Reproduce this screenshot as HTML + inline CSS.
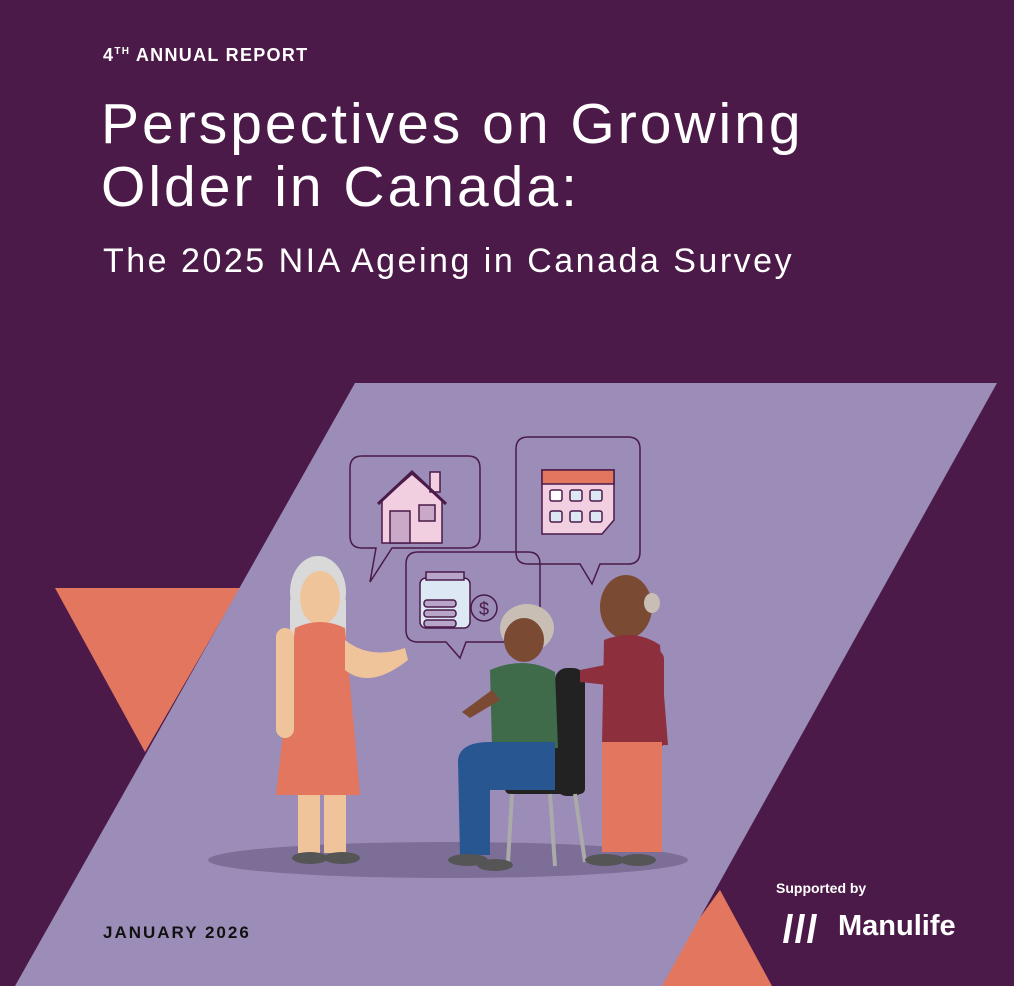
<!DOCTYPE html>
<html><head><meta charset="utf-8">
<style>
html,body{margin:0;padding:0}
body{width:1014px;height:986px;overflow:hidden;background:#4b1a48;position:relative;font-family:"Liberation Sans",sans-serif}
.t{position:absolute;white-space:nowrap}
</style></head>
<body>
<svg width="1014" height="986" style="position:absolute;left:0;top:0">
  <polygon points="55,588 240,588 145,752" fill="#e2765f"/>
  <polygon points="720,890 650,986 772,986" fill="#e2765f"/>
  <polygon points="355,383 997,383 662,986 15,986" fill="#9b8db8"/>
  <ellipse cx="448" cy="860" rx="240" ry="18" fill="#7c6e96"/>
  <g fill="none" stroke="#4b1a48" stroke-width="1.5">
    <path d="M362,456 H468 Q480,456 480,468 V536 Q480,548 468,548 H392 L370,582 L376,548 H362 Q350,548 350,536 V468 Q350,456 362,456 Z"/>
  </g>
  <g stroke="#4b1a48" stroke-width="1.5">
    <polygon points="382,500 412,474 442,500 442,543 382,543" fill="#f2cfe0"/>
    <rect x="430" y="472" width="10" height="20" fill="#f2cfe0"/>
    <polyline points="378,504 412,472 446,504" fill="none" stroke-width="3"/>
    <rect x="390" y="511" width="20" height="32" fill="#c9a9c7"/>
    <rect x="419" y="505" width="16" height="16" fill="#c9a9c7"/>
  </g>
  <g fill="none" stroke="#4b1a48" stroke-width="1.5">
    <path d="M528,437 H628 Q640,437 640,449 V552 Q640,564 628,564 H600 L592,584 L580,564 H528 Q516,564 516,552 V449 Q516,437 528,437 Z"/>
  </g>
  <g stroke="#4b1a48" stroke-width="1.5">
    <path d="M542,470 H614 V520 L602,534 H542 Z" fill="#f2cfe0"/>
    <rect x="542" y="470" width="72" height="14" fill="#e2765f"/>
    <rect x="550" y="490" width="12" height="11" rx="2" fill="#fff"/>
    <rect x="570" y="490" width="12" height="11" rx="2" fill="#dce8f4"/>
    <rect x="590" y="490" width="12" height="11" rx="2" fill="#dce8f4"/>
    <rect x="550" y="511" width="12" height="11" rx="2" fill="#dce8f4"/>
    <rect x="570" y="511" width="12" height="11" rx="2" fill="#dce8f4"/>
    <rect x="590" y="511" width="12" height="11" rx="2" fill="#dce8f4"/>
  </g>
  <g fill="none" stroke="#4b1a48" stroke-width="1.5">
    <path d="M418,552 H528 Q540,552 540,564 V630 Q540,642 528,642 H466 L460,658 L446,642 H418 Q406,642 406,630 V564 Q406,552 418,552 Z"/>
  </g>
  <g stroke="#4b1a48" stroke-width="1.5">
    <rect x="420" y="578" width="50" height="50" rx="6" fill="#dce8f4"/>
    <rect x="426" y="572" width="38" height="8" fill="#b7a6c9"/>
    <rect x="424" y="600" width="32" height="7" rx="3" fill="#b7a6c9"/>
    <rect x="424" y="610" width="32" height="7" rx="3" fill="#b7a6c9"/>
    <rect x="424" y="620" width="32" height="7" rx="3" fill="#b7a6c9"/>
    <circle cx="484" cy="608" r="13" fill="none"/>
    <text x="484" y="615" text-anchor="middle" font-size="18" fill="#4b1a48" stroke="none" font-family="Liberation Sans, sans-serif">$</text>
  </g>
  <g>
    <ellipse cx="318" cy="592" rx="28" ry="36" fill="#d9d9d9"/>
    <rect x="290" y="592" width="56" height="60" rx="10" fill="#d9d9d9"/>
    <ellipse cx="320" cy="598" rx="20" ry="27" fill="#f0c49a"/>
    <path d="M295,628 Q320,616 345,628 L360,795 H276 Z" fill="#e2765f"/>
    <path d="M345,640 Q370,660 405,648 L408,660 Q370,690 345,670 Z" fill="#f0c49a"/>
    <rect x="276" y="628" width="18" height="110" rx="9" fill="#f0c49a"/>
    <rect x="298" y="795" width="22" height="58" fill="#f0c49a"/>
    <rect x="324" y="795" width="22" height="58" fill="#f0c49a"/>
    <ellipse cx="310" cy="858" rx="18" ry="6" fill="#555"/>
    <ellipse cx="342" cy="858" rx="18" ry="6" fill="#555"/>
  </g>
  <g>
    <rect x="555" y="668" width="30" height="128" rx="12" fill="#222"/>
    <rect x="505" y="780" width="80" height="14" rx="5" fill="#222"/>
    <line x1="550" y1="794" x2="555" y2="866" stroke="#aaa" stroke-width="4"/>
    <line x1="575" y1="794" x2="585" y2="862" stroke="#aaa" stroke-width="4"/>
    <line x1="512" y1="794" x2="508" y2="862" stroke="#aaa" stroke-width="4"/>
    <ellipse cx="527" cy="628" rx="27" ry="24" fill="#c9beb3"/>
    <ellipse cx="524" cy="640" rx="20" ry="22" fill="#7a4a33"/>
    <path d="M490,670 Q525,655 555,672 L558,748 H492 Z" fill="#3f6b4a"/>
    <path d="M500,700 L470,718 L462,712 L492,690 Z" fill="#7a4a33"/>
    <path d="M458,760 Q460,742 490,742 H555 V790 H490 V855 H460 Z" fill="#285690"/>
    <ellipse cx="468" cy="860" rx="20" ry="6" fill="#555"/>
    <ellipse cx="495" cy="865" rx="18" ry="6" fill="#555"/>
  </g>
  <g>
    <ellipse cx="626" cy="607" rx="26" ry="32" fill="#7a4a33"/>
    <ellipse cx="652" cy="603" rx="8" ry="10" fill="#c9beb3"/>
    <path d="M604,640 Q635,628 660,645 L668,745 H602 Z" fill="#8d2f3c"/>
    <path d="M605,665 L580,670 L580,682 L608,685 Z" fill="#8d2f3c"/>
    <rect x="646" y="650" width="18" height="100" rx="9" fill="#8d2f3c"/>
    <rect x="602" y="742" width="60" height="110" fill="#e2765f"/>
    <ellipse cx="605" cy="860" rx="20" ry="6" fill="#555"/>
    <ellipse cx="638" cy="860" rx="18" ry="6" fill="#555"/>
  </g>
  <g fill="#fff">
    <polygon points="783,943 788,914 793,914 788,943"/>
    <polygon points="795,943 800,914 805,914 800,943"/>
    <polygon points="807,943 812,914 817,914 812,943"/>
  </g>
</svg>
<div class="t" style="left:103px;top:45px;color:#fff;font-weight:bold;font-size:18px;letter-spacing:1.3px">4<sup style="font-size:10px">TH</sup> ANNUAL REPORT</div>
<div class="t" style="left:101px;top:93px;color:#fff;font-size:57px;line-height:63px;letter-spacing:3px">Perspectives on Growing<br>Older in Canada:</div>
<div class="t" style="left:103px;top:242px;color:#fff;font-size:34px;letter-spacing:2.5px">The 2025 NIA Ageing in Canada Survey</div>
<div class="t" style="left:103px;top:923px;color:#111;font-weight:bold;font-size:17px;letter-spacing:2px">JANUARY 2026</div>
<div class="t" style="left:776px;top:880px;color:#fff;font-weight:bold;font-size:14px">Supported by</div>
<div class="t" style="left:838px;top:910px;color:#fff;font-weight:bold;font-size:29px">Manulife</div>
</body></html>
